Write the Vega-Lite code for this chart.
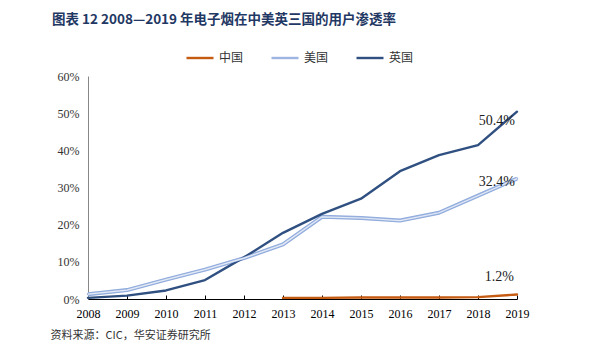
{
  "$schema": "https://vega.github.io/schema/vega-lite/v6.json",
  "width": 429,
  "height": 223,
  "autosize": {"type": "none"},
  "padding": {"left": 88, "top": 76, "right": 82, "bottom": 51},
  "background": "white",
  "title": {
    "text": "图表 12 2008—2019 年电子烟在中美英三国的用户渗透率",
    "anchor": "start",
    "frame": "group",
    "font": "Noto Sans CJK SC",
    "fontSize": 13.5,
    "fontWeight": "bold",
    "color": "#1F3864",
    "dx": -36,
    "offset": 17
  },
  "data": {
    "values": [
      {"year": "2008", "country": "英国", "value": 0.003},
      {"year": "2009", "country": "英国", "value": 0.009},
      {"year": "2010", "country": "英国", "value": 0.023},
      {"year": "2011", "country": "英国", "value": 0.051},
      {"year": "2012", "country": "英国", "value": 0.112},
      {"year": "2013", "country": "英国", "value": 0.178},
      {"year": "2014", "country": "英国", "value": 0.229},
      {"year": "2015", "country": "英国", "value": 0.270},
      {"year": "2016", "country": "英国", "value": 0.344},
      {"year": "2017", "country": "英国", "value": 0.387},
      {"year": "2018", "country": "英国", "value": 0.414},
      {"year": "2019", "country": "英国", "value": 0.504},
      {"year": "2008", "country": "美国", "value": 0.013},
      {"year": "2009", "country": "美国", "value": 0.024},
      {"year": "2010", "country": "美国", "value": 0.052},
      {"year": "2011", "country": "美国", "value": 0.079},
      {"year": "2012", "country": "美国", "value": 0.110},
      {"year": "2013", "country": "美国", "value": 0.147},
      {"year": "2014", "country": "美国", "value": 0.221},
      {"year": "2015", "country": "美国", "value": 0.218},
      {"year": "2016", "country": "美国", "value": 0.211},
      {"year": "2017", "country": "美国", "value": 0.232},
      {"year": "2018", "country": "美国", "value": 0.278},
      {"year": "2019", "country": "美国", "value": 0.324},
      {"year": "2013", "country": "中国", "value": 0.003},
      {"year": "2014", "country": "中国", "value": 0.003},
      {"year": "2015", "country": "中国", "value": 0.004},
      {"year": "2016", "country": "中国", "value": 0.004},
      {"year": "2017", "country": "中国", "value": 0.004},
      {"year": "2018", "country": "中国", "value": 0.005},
      {"year": "2019", "country": "中国", "value": 0.012}
    ]
  },
  "encoding": {
    "x": {
      "field": "year",
      "type": "ordinal",
      "scale": {"type": "point", "padding": 0},
      "axis": {
        "title": "资料来源：CIC，华安证券研究所",
        "titleFont": "Noto Sans CJK SC",
        "titleFontSize": 11,
        "titleFontWeight": "normal",
        "titleColor": "#333333",
        "titleAnchor": "start",
        "titleAlign": "left",
        "titleX": -38,
        "titleY": 30,
        "labelAngle": 0,
        "labelFont": "Liberation Serif",
        "labelFontSize": 12,
        "labelColor": "#000000",
        "labelPadding": 13,
        "domainColor": "#000000",
        "tickColor": "#000000",
        "tickSize": -4,
        "grid": false
      }
    },
    "y": {
      "field": "value",
      "type": "quantitative",
      "scale": {"domain": [0, 0.6], "nice": false},
      "axis": {
        "title": null,
        "format": ".0%",
        "values": [0, 0.1, 0.2, 0.3, 0.4, 0.5, 0.6],
        "labelFont": "Liberation Serif",
        "labelFontSize": 12,
        "labelColor": "#333333",
        "labelPadding": 9,
        "ticks": false,
        "domainColor": "#888888",
        "grid": false
      }
    }
  },
  "layer": [
    {
      "transform": [{"filter": "datum.country === '美国'"}],
      "mark": {"type": "line", "color": "#8FAADC", "strokeWidth": 4, "strokeJoin": "round"},
      "encoding": {}
    },
    {
      "mark": {"type": "line", "strokeWidth": 2.4, "strokeCap": "round", "strokeJoin": "round"},
      "encoding": {
        "color": {
          "field": "country",
          "type": "nominal",
          "scale": {"domain": ["中国", "美国", "英国"], "range": ["#C55A11", "#9DB5E0", "#2F5081"]},
          "legend": {
            "title": null,
            "orient": "none",
            "legendX": 97,
            "legendY": -33,
            "direction": "horizontal",
            "symbolType": "stroke",
            "symbolSize": 729,
            "symbolStrokeWidth": 2.4,
            "labelFont": "Noto Sans CJK SC",
            "labelFontSize": 12,
            "labelColor": "#333333",
            "columnPadding": 22
          }
        }
      }
    },
    {
      "transform": [{"filter": "datum.country === '美国'"}],
      "mark": {"type": "line", "color": "#E4EBF7", "strokeWidth": 1.2},
      "encoding": {}
    },
    {
      "transform": [{"filter": "datum.country === '英国' && datum.year === '2019'"}],
      "mark": {"type": "text", "align": "right", "baseline": "middle", "dx": -2, "dy": 9, "font": "Liberation Serif", "fontSize": 14, "color": "#222222"},
      "encoding": {"text": {"field": "value", "type": "quantitative", "format": ".1%"}}
    },
    {
      "transform": [{"filter": "datum.country === '美国' && datum.year === '2019'"}],
      "mark": {"type": "text", "align": "right", "baseline": "middle", "dx": -2, "dy": 3, "font": "Liberation Serif", "fontSize": 14, "color": "#222222"},
      "encoding": {"text": {"field": "value", "type": "quantitative", "format": ".1%"}}
    },
    {
      "transform": [{"filter": "datum.country === '中国' && datum.year === '2019'"}],
      "mark": {"type": "text", "align": "right", "baseline": "middle", "dx": -3, "dy": -18, "font": "Liberation Serif", "fontSize": 14, "color": "#222222"},
      "encoding": {"text": {"field": "value", "type": "quantitative", "format": ".1%"}}
    }
  ],
  "config": {"view": {"stroke": null}}
}
